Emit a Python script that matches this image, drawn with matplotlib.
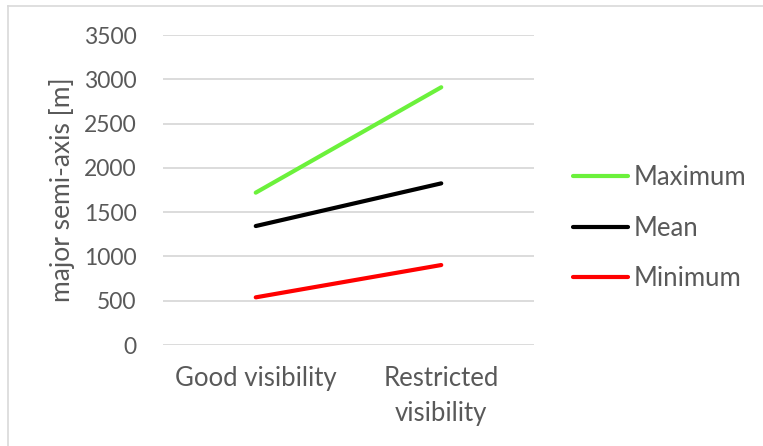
import matplotlib
matplotlib.use("Agg")
import matplotlib.pyplot as plt
from matplotlib.lines import Line2D

categories = ["Good visibility", "Restricted\nvisibility"]
series_names = ["Maximum", "Mean", "Minimum"]
maximum = [1720, 2910]
mean = [1343, 1825]
minimum = [538, 903]
y_ticks = [0, 500, 1000, 1500, 2000, 2500, 3000, 3500]

colors = ["#6bf13b", "#000000", "#ff0000"]
text_color = "#595959"
grid_color = "#d9d9d9"

plt.rcParams["font.family"] = ["Lato", "DejaVu Sans"]

fig = plt.figure(figsize=(7.63, 4.46), dpi=100)
W, H = 763, 446

# chart-area border (Excel style)
fig.add_artist(Line2D([8 / W, 8 / W], [0, 1 - 6 / H], transform=fig.transFigure,
                      color=grid_color, lw=1.2))
fig.add_artist(Line2D([8 / W, 1], [1 - 6 / H, 1 - 6 / H], transform=fig.transFigure,
                      color=grid_color, lw=1.2))

ax = fig.add_axes([163 / W, 1 - 345 / H, (534 - 163) / W, (345 - 35) / H])

x = list(range(len(categories)))
for name, vals, c in zip(series_names, [maximum, mean, minimum], colors):
    ax.plot(x, vals, color=c, lw=3.0, solid_capstyle="round", label=name)

ax.set_xlim(-0.5, len(categories) - 0.5)
ax.set_ylim(0, 3500)
ax.set_yticks(y_ticks)
ax.set_xticks(x)
ax.set_xticklabels(categories, linespacing=1.5)
ax.yaxis.grid(True, color=grid_color, lw=1.3)
ax.set_axisbelow(True)
for s in ax.spines.values():
    s.set_visible(False)
ax.tick_params(axis="y", length=0, pad=19, labelsize=16.5, labelcolor=text_color)
ax.tick_params(axis="x", length=0, pad=15, labelsize=18.5, labelcolor=text_color)

fig.text(62 / W, 1 - 190 / H, "major semi-axis [m]", rotation=90, ha="center",
         va="center", fontsize=19, color=text_color)

leg = ax.legend(loc="center left", bbox_to_anchor=(573 / W, 1 - 228 / H),
                bbox_transform=fig.transFigure, frameon=False, fontsize=18.5,
                handlelength=2.15, handletextpad=0.2, labelspacing=1.0,
                borderpad=0, borderaxespad=0)
for t in leg.get_texts():
    t.set_color(text_color)

fig.savefig("out.png", dpi=100)
